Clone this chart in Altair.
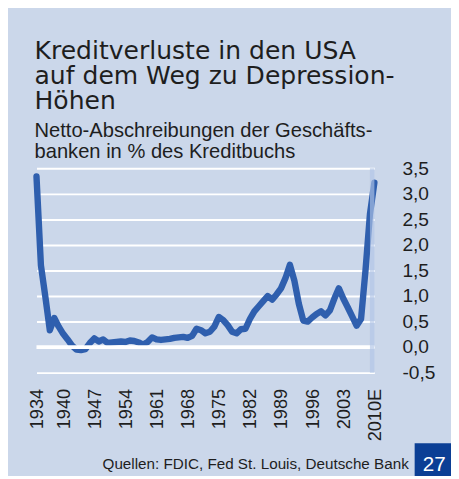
import altair as alt
import pandas as pd

# ---------------- data ----------------
years = list(range(1934, 2011))
chargeoffs = [
    3.34, 1.60, 0.98, 0.33, 0.57, 0.40, 0.26, 0.15, 0.03, -0.05,   # 1934-1943
    -0.06, -0.04, 0.08, 0.17, 0.11, 0.15, 0.08, 0.09, 0.10, 0.11,  # 1944-1953
    0.10, 0.13, 0.12, 0.09, 0.05, 0.10, 0.19, 0.15, 0.14, 0.15,    # 1954-1963
    0.16, 0.18, 0.19, 0.20, 0.18, 0.22, 0.36, 0.33, 0.27, 0.30,    # 1964-1973
    0.40, 0.59, 0.53, 0.43, 0.30, 0.27, 0.35, 0.36, 0.55, 0.70,    # 1974-1983
    0.80, 0.90, 1.00, 0.93, 1.03, 1.15, 1.35, 1.61, 1.30, 0.85,    # 1984-1993
    0.52, 0.50, 0.58, 0.65, 0.70, 0.62, 0.72, 0.95, 1.15, 0.95,    # 1994-2003
    0.78, 0.60, 0.42, 0.55, 1.50, 2.60, 3.22,                      # 2004-2010
]
assert len(years) == len(chargeoffs)

tick_years = [1934, 1940, 1947, 1954, 1961, 1968, 1975, 1982, 1989, 1996, 2003, 2010]
y_ticks = [-0.5, 0.0, 0.5, 1.0, 1.5, 2.0, 2.5, 3.0, 3.5]
zero_line = [0.0]
forecast_start = [2009]
forecast_end = [2010]

title_lines = ["Kreditverluste in den USA", "auf dem Weg zu Depression-", "Höhen"]
subtitle_lines = ["Netto-Abschreibungen der Geschäfts-", "banken in % des Kreditbuchs"]
source_text = "Quellen: FDIC, Fed St. Louis, Deutsche Bank"
page_number = "27"

# ---------------- layout ----------------
W, H = 344, 208
BG = "#cbd7ea"
LINE = "#2f5fae"
TXT = "#1e1e1e"
SANS = "Liberation Sans"

df = pd.DataFrame({"year": years, "value": chargeoffs})
one = pd.DataFrame({"k": [0]})

xscale = alt.Scale(domain=[1934, 2010], nice=False, zero=False)
yscale = alt.Scale(domain=[-0.5, 3.5], nice=False, zero=False)

x_axis = alt.Axis(
    values=tick_years, labelAngle=270, labelPadding=16, labelFontSize=18.5,
    labelFont=SANS, labelColor=TXT, ticks=False, domain=False, grid=False,
    title=None, labelOverlap=False, labelBound=False, labelFlush=False,
    labelExpr="datum.value == 2010 ? '2010E' : toString(datum.value)")
y_axis = alt.Axis(
    orient="right", values=y_ticks, labelPadding=28, labelFontSize=19.5,
    labelFont=SANS, labelColor=TXT, ticks=False, domain=False,
    grid=True, gridColor="white", gridWidth=2, gridOpacity=1,
    title=None, labelAlign="left", labelOverlap=False, labelBound=False,
    labelFlush=False,
    labelExpr="(datum.value < 0 ? '-' : '') + replace(format(abs(datum.value), '.1f'), '.', ',')")

line = alt.Chart(df).mark_line(
    color=LINE, strokeWidth=6.5, strokeCap="round", strokeJoin="round"
).encode(
    x=alt.X("year:Q", scale=xscale, axis=x_axis),
    y=alt.Y("value:Q", scale=yscale, axis=y_axis),
)

zero = alt.Chart(pd.DataFrame({"value": zero_line})).mark_rule(
    color="white", strokeWidth=4
).encode(y=alt.Y("value:Q", scale=yscale, axis=y_axis))

band = alt.Chart(pd.DataFrame({"year": forecast_start, "year_end": forecast_end})).mark_rect(
    color="#b0c4e6", opacity=0.65
).encode(
    x=alt.X("year:Q", scale=xscale, axis=x_axis), x2="year_end:Q",
    y=alt.value(0), y2=alt.value(H),
)

title = alt.Chart(one).mark_text(
    text=title_lines, font="DejaVu Sans", fontSize=25.5, lineHeight=25.5,
    align="left", baseline="alphabetic", color=TXT,
).encode(x=alt.value(-2), y=alt.value(-111))

subtitle = alt.Chart(one).mark_text(
    text=subtitle_lines, font=SANS, fontSize=20.5, lineHeight=21.7,
    align="left", baseline="alphabetic", color=TXT,
).encode(x=alt.value(-2), y=alt.value(-32))

source = alt.Chart(one).mark_text(
    text=source_text, font=SANS, fontSize=15.5, align="right",
    baseline="alphabetic", color=TXT,
).encode(x=alt.value(379), y=alt.value(306))

box = alt.Chart(one).mark_rect(color="#0b3f95").encode(
    x=alt.value(385), x2=alt.value(430), y=alt.value(280), y2=alt.value(320)
)

pnum = alt.Chart(one).mark_text(
    text=page_number, font=SANS, fontSize=21, align="center",
    baseline="alphabetic", color="white",
).encode(x=alt.value(405), y=alt.value(308))

chart = alt.layer(
    line, zero, band, title, subtitle, source, box, pnum
).properties(
    width=W, height=H,
    padding={"left": 29, "top": 159, "right": 78, "bottom": 101},
    autosize="none",
    background=BG,
).configure_view(stroke=None).configure_axis(labelOverlap=False)

chart.save("out.html", embed_options={"renderer": "svg", "actions": False})
